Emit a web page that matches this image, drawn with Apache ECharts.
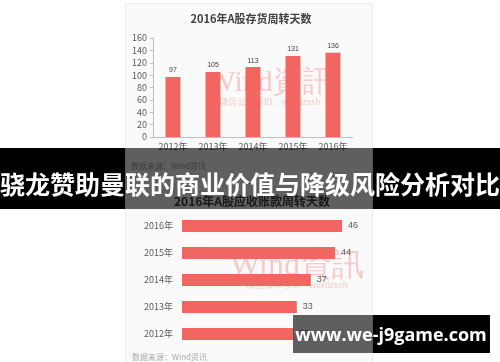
<!DOCTYPE html>
<html>
<head>
<meta charset="utf-8">
<script src="https://cdn.jsdelivr.net/npm/echarts@6/dist/echarts.min.js"></script>
<style>
html,body{margin:0;padding:0;background:#fff;}
#c{width:500px;height:362px;}
</style>
</head>
<body>
<div id="c"></div>
<script>
var topTitle = '2016年A股存货周转天数';
var topCategories = ['2012年', '2013年', '2014年', '2015年', '2016年'];
var topValues = [97, 105, 113, 131, 136];
var bottomCategories = ['2012年', '2013年', '2014年', '2015年', '2016年'];
var bottomValues = [32, 33, 37, 44, 46];
var bottomTitle = '2016年A股应收账款周转天数';
var sourceText = '数据来源：Wind资讯';
var headline = '骁龙赞助曼联的商业价值与降级风险分析对比';
var siteText = 'www.we-j9game.com';

var BAR = '#f26662';
var CJK = '"Noto Sans CJK SC", "Noto Sans", sans-serif';
var chart = echarts.init(document.getElementById('c'));

chart.setOption({
  backgroundColor: '#ffffff',
  animation: false,
  title: {
    text: topTitle, left: 246, top: 8, textAlign: 'center',
    textStyle: {fontSize: 11, fontWeight: 'bold', color: '#404040', fontFamily: CJK}
  },
  grid: [
    {left: 153, right: 147, top: 38, bottom: 225},
    {left: 182, right: 144, top: 212.5, bottom: 14.5}
  ],
  xAxis: [
    {gridIndex: 0, type: 'category', data: topCategories,
     axisLine: {lineStyle: {color: '#bfbfbf'}}, axisTick: {show: false},
     axisLabel: {fontSize: 9, color: '#595959', margin: 5, fontFamily: CJK}},
    {gridIndex: 1, type: 'value', min: 0, max: 50, show: false}
  ],
  yAxis: [
    {gridIndex: 0, type: 'value', min: 0, max: 160, interval: 20,
     axisLine: {show: true, lineStyle: {color: '#bfbfbf'}},
     axisTick: {show: true, length: 3, lineStyle: {color: '#bfbfbf'}},
     splitLine: {show: false},
     axisLabel: {fontSize: 9, color: '#595959', margin: 6, fontFamily: CJK}},
    {gridIndex: 1, type: 'category', data: bottomCategories,
     axisLine: {show: false}, axisTick: {show: false},
     axisLabel: {fontSize: 9, color: '#595959', margin: 9, fontFamily: CJK}}
  ],
  series: [
    {type: 'bar', xAxisIndex: 0, yAxisIndex: 0, data: topValues, barWidth: 15,
     itemStyle: {color: BAR},
     label: {show: true, position: 'top', distance: 3, fontSize: 7, color: '#404040'}},
    {type: 'bar', xAxisIndex: 1, yAxisIndex: 1, data: bottomValues, barWidth: 12,
     itemStyle: {color: BAR},
     label: {show: true, position: 'right', distance: 6, fontSize: 9, color: '#595959'}}
  ],
  graphic: [
    {type: 'rect', z: -10, silent: true, shape: {x: 125.5, y: 3.5, width: 247, height: 362},
     style: {fill: '#fafafa', stroke: '#ececec', lineWidth: 1}},
    // watermarks
    {type: 'text', z: 1, silent: true, style: {x: 270, y: 83, text: 'Wind資訊', align: 'center', verticalAlign: 'middle',
      font: '30px "Liberation Serif", serif', fill: 'rgba(240,100,100,0.33)'}},
    {type: 'text', z: 1, silent: true, style: {x: 270, y: 102, text: '微信公众号ID：windzxsh', align: 'center', verticalAlign: 'middle',
      font: '9px ' + CJK, fill: 'rgba(240,100,100,0.33)'}},
    {type: 'text', z: 1, silent: true, style: {x: 297, y: 267, text: 'Wind資訊', align: 'center', verticalAlign: 'middle',
      font: '32px "Liberation Serif", serif', fill: 'rgba(240,100,100,0.33)'}},
    {type: 'text', z: 1, silent: true, style: {x: 297, y: 285, text: '微信公众号ID：windzxsh', align: 'center', verticalAlign: 'middle',
      font: '9px ' + CJK, fill: 'rgba(240,100,100,0.33)'}},
    // source texts and hidden title
    {type: 'text', z: 1, silent: true, style: {x: 131, y: 166, text: sourceText, verticalAlign: 'middle',
      font: '8px ' + CJK, fill: '#9a9a9a'}},
    {type: 'text', z: 1, silent: true, style: {x: 252, y: 201, text: bottomTitle, align: 'center', verticalAlign: 'middle',
      font: 'bold 12px ' + CJK, fill: '#404040'}},
    {type: 'text', z: 1, silent: true, style: {x: 132, y: 357, text: sourceText, verticalAlign: 'middle',
      font: '8px ' + CJK, fill: '#aaaaaa'}},
    // headline band
    {type: 'rect', z: 100, silent: true, shape: {x: 0, y: 148, width: 125, height: 61}, style: {fill: '#000'}},
    {type: 'rect', z: 100, silent: true, shape: {x: 373, y: 148, width: 127, height: 61}, style: {fill: '#000'}},
    {type: 'rect', z: 100, silent: true, shape: {x: 125, y: 148, width: 248, height: 61}, style: {fill: 'rgba(0,0,0,0.62)'}},
    {type: 'text', z: 102, silent: true, style: {x: 250, y: 184, text: headline, align: 'center', verticalAlign: 'middle',
      font: 'bold 25px ' + CJK, fill: '#ffffff'}},
    // site box
    {type: 'rect', z: 100, silent: true, shape: {x: 293, y: 315, width: 80, height: 38}, style: {fill: 'rgba(0,0,0,0.62)'}},
    {type: 'rect', z: 100, silent: true, shape: {x: 373, y: 315, width: 117, height: 38}, style: {fill: '#000'}},
    {type: 'text', z: 102, silent: true, style: {x: 391, y: 336, text: siteText, align: 'center', verticalAlign: 'middle',
      font: 'bold 18px "Open Sans", "Noto Sans", sans-serif', fill: '#ffffff'}}
  ]
});
</script>
</body>
</html>
